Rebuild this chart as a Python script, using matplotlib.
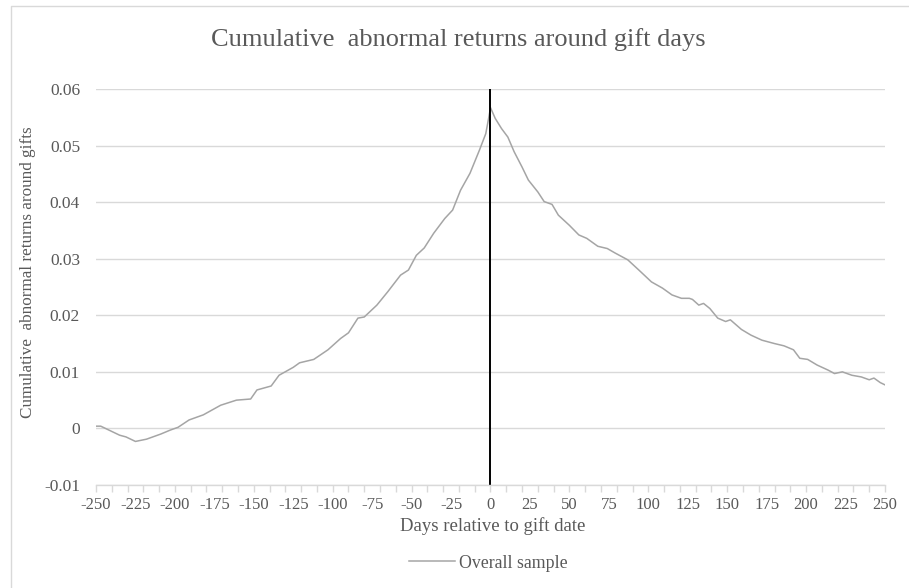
import numpy as np
import matplotlib
matplotlib.use("Agg")
import matplotlib.pyplot as plt
from matplotlib.lines import Line2D

# values
days = [-250, -247, -241, -235, -231, -225, -218, -209, -203, -198,
        -191, -182, -171, -161, -152, -148, -139, -134, -125, -121,
        -112, -103, -95, -90, -84, -80, -72, -65, -57, -52,
        -47, -42, -36, -29, -24, -19, -13, -7, -3, -1,
        0, 3, 7, 11, 15, 20, 24, 30, 34, 39,
        43, 50, 56, 61, 68, 74, 79, 87, 94, 102,
        109, 115, 121, 126, 128, 132, 135, 139, 144, 149,
        152, 159, 165, 172, 180, 186, 192, 196, 201, 207,
        214, 218, 223, 229, 235, 240, 243, 247, 250]
car = [0.0004, 0.0004, -0.0004, -0.0012, -0.0015, -0.0023, -0.0019, -0.0010, -0.0003, 0.0002,
       0.0015, 0.0024, 0.0041, 0.0050, 0.0052, 0.0068, 0.0075, 0.0094, 0.0108, 0.0116,
       0.0122, 0.0139, 0.0159, 0.0169, 0.0195, 0.0197, 0.0218, 0.0242, 0.0271, 0.0280,
       0.0306, 0.0319, 0.0345, 0.0371, 0.0386, 0.0421, 0.0451, 0.0492, 0.0521, 0.0551,
       0.0567, 0.0548, 0.0530, 0.0515, 0.0489, 0.0462, 0.0439, 0.0418, 0.0401, 0.0396,
       0.0377, 0.0359, 0.0342, 0.0336, 0.0322, 0.0318, 0.0310, 0.0298, 0.0280, 0.0259,
       0.0248, 0.0236, 0.0230, 0.0230, 0.0228, 0.0218, 0.0221, 0.0212, 0.0195, 0.0189,
       0.0192, 0.0175, 0.0165, 0.0156, 0.0150, 0.0146, 0.0139, 0.0124, 0.0122, 0.0112,
       0.0103, 0.0097, 0.0100, 0.0094, 0.0091, 0.0086, 0.0089, 0.0081, 0.0077]

x_labels = list(range(-250, 251, 25))
y_ticks = [-0.01, 0, 0.01, 0.02, 0.03, 0.04, 0.05, 0.06]
y_labels = ["-0.01", "0", "0.01", "0.02", "0.03", "0.04", "0.05", "0.06"]

plt.rcParams['font.family'] = ['Liberation Serif', 'DejaVu Serif']
txt = '#595959'
grid = '#d9d9d9'

W, H = 909, 588
fig = plt.figure(figsize=(W / 100, H / 100), dpi=100)
ax = fig.add_axes([96 / W, 1 - 485 / H, (885 - 96) / W, (485 - 89) / H])

line, = ax.plot(days, car, color='#a5a5a5', lw=1.1, label='Overall sample')
ax.axvline(0, color='black', lw=1.4)

ax.set_xlim(-250, 250)
ax.set_ylim(-0.01, 0.06)
ax.set_yticks(y_ticks)
ax.set_yticklabels(y_labels)
ax.set_xticks(x_labels)
ax.set_xticklabels([str(v) for v in x_labels])
ax.set_xticks(range(-250, 251, 10), minor=True)
ax.xaxis.remove_overlapping_locs = False

ax.grid(axis='y', color=grid, lw=1)
ax.set_axisbelow(True)
for s in ['top', 'right', 'left']:
    ax.spines[s].set_visible(False)
ax.spines['bottom'].set_color(grid)
ax.spines['bottom'].set_linewidth(1)

ax.tick_params(axis='x', which='major', length=0, pad=8.5, labelsize=12, labelcolor=txt)
ax.tick_params(axis='x', which='minor', length=5, color=grid, width=1)
ax.tick_params(axis='y', length=0, pad=11.5, labelsize=12.5, labelcolor=txt)

fig.text(458 / W, 1 - 40 / H, 'Cumulative  abnormal returns around gift days',
         ha='center', va='center', fontsize=19, color=txt)
fig.text(493 / W, 1 - 526 / H, 'Days relative to gift date',
         ha='center', va='center', fontsize=13.5, color=txt)
fig.text(28 / W, 1 - 272 / H, 'Cumulative  abnormal returns around gifts',
         ha='center', va='center', rotation=90, fontsize=12.3, color=txt)

fig.legend(handles=[line], loc='center', bbox_to_anchor=(488 / W, 1 - 563 / H),
           frameon=False, fontsize=12.8, labelcolor=txt, handlelength=2.6,
           handletextpad=0.2)

# chart-area border (top and left edges visible in the reference)
fig.add_artist(Line2D([11 / W, 11 / W, 1.0], [0.0, 1 - 6 / H, 1 - 6 / H],
                      transform=fig.transFigure, color=grid, lw=1))

fig.savefig('out.png', dpi=100)
